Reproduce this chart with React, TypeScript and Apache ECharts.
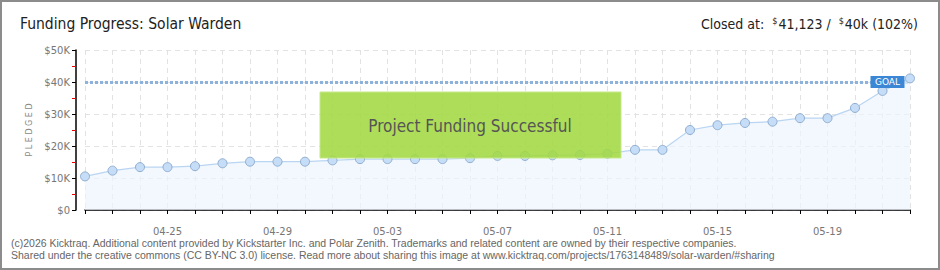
import React, { useEffect, useRef } from "react";
import * as echarts from "echarts";

const dates = [
  "04-22", "04-23", "04-24", "04-25", "04-26", "04-27", "04-28", "04-29", "04-30",
  "05-01", "05-02", "05-03", "05-04", "05-05", "05-06", "05-07", "05-08", "05-09",
  "05-10", "05-11", "05-12", "05-13", "05-14", "05-15", "05-16", "05-17", "05-18",
  "05-19", "05-20", "05-21", "05-22",
];
const pledged = [
  10500, 12300, 13400, 13400, 13700, 14600, 15100, 15100, 15100, 15500, 15900,
  15900, 15900, 15900, 16200, 16900, 16900, 17100, 17200, 17600, 18800, 18800,
  25000, 26500, 27200, 27600, 28700, 28700, 31900, 37200, 41123,
];
const goal = 40000;
const yTicks = [0, 10000, 20000, 30000, 40000, 50000];

export default function App() {
  const ref = useRef<HTMLDivElement>(null);
  useEffect(() => {
    document.body.style.margin = "0";
    const chart = echarts.init(ref.current!, undefined, { renderer: "svg" });
    const axisFont = "DejaVu Sans";
    chart.setOption({
      animation: false,
      backgroundColor: "#ffffff",
      grid: { left: 85, right: 30, top: 50, bottom: 60 },
      xAxis: {
        type: "category",
        data: dates,
        boundaryGap: false,
        offset: 10,
        axisLine: { lineStyle: { color: "#000", width: 1.5 } },
        axisTick: { show: true, interval: 0, length: 4, lineStyle: { color: "#000" } },
        axisLabel: {
          interval: (i: number) => (i - 3) % 4 === 0 && i >= 3,
          color: "#777",
          fontFamily: axisFont,
          fontSize: 10,
          margin: 6,
        },
        splitLine: { show: true, interval: 0, lineStyle: { color: "#e2e2e2", type: [5, 4] } },
      },
      yAxis: {
        type: "value",
        min: yTicks[0],
        max: yTicks[yTicks.length - 1],
        interval: 10000,
        offset: 9,
        name: "P L E D G E D",
        nameLocation: "middle",
        nameGap: 42,
        nameTextStyle: { color: "#888", fontFamily: axisFont, fontSize: 8 },
        axisLine: { show: true, lineStyle: { color: "#000", width: 1.5 } },
        axisTick: { show: true, length: 4, lineStyle: { color: "#000" } },
        minorTick: { show: true, splitNumber: 2, length: 4, lineStyle: { color: "#e00" } },
        axisLabel: {
          color: "#777",
          fontFamily: axisFont,
          fontSize: 10,
          margin: 6,
          formatter: (v: number) => (v === 0 ? "$0" : "$" + v / 1000 + "K"),
        },
        splitLine: { show: true, lineStyle: { color: "#e2e2e2", type: [5, 4] } },
      },
      series: [
        {
          type: "line",
          data: pledged,
          symbol: "circle",
          symbolSize: 9,
          lineStyle: { color: "#b9d5f2", width: 1.2 },
          itemStyle: { color: "#c6ddf7", borderColor: "#8fadcf", borderWidth: 1 },
          areaStyle: { color: "#eef5fd" },
          z: 3,
          markLine: {
            silent: true,
            symbol: "none",
            label: { show: false },
            lineStyle: { color: "#8eb2de", width: 3, type: [3, 2] },
            data: [{ yAxis: goal }],
            z: 2,
          },
          markPoint: {
            silent: true,
            symbol: "rect",
            symbolSize: [34, 12],
            symbolOffset: [5, 0],
            itemStyle: { color: "#3b87d6" },
            label: {
              show: true,
              formatter: "GOAL",
              color: "#fff",
              fontFamily: axisFont,
              fontSize: 9,
            },
            data: [{ coord: [dates[29], goal] }],
          },
        },
      ],
      graphic: [
        {
          type: "rect",
          shape: { x: 1, y: 1, width: 938, height: 268 },
          style: { fill: "none", stroke: "#8c8c8c", lineWidth: 2 },
          z: 100,
        },
        {
          type: "text",
          x: 20,
          y: 24,
          style: {
            text: "Funding Progress: Solar Warden",
            font: "15.5px 'DejaVu Sans Condensed', 'DejaVu Sans'",
            fill: "#222",
            verticalAlign: "middle",
          },
        },
        {
          type: "text",
          x: 918,
          y: 24,
          style: {
            text: "Closed at:  {s|$}41,123 /  {s|$}40k (102%)",
            font: "14px 'DejaVu Sans Condensed', 'DejaVu Sans'",
            fill: "#222",
            align: "right",
            verticalAlign: "middle",
            rich: {
              s: { fontSize: 9, verticalAlign: "top", padding: [0, 1, 6, 0], fontFamily: "DejaVu Sans Condensed" },
            },
          },
        },
        {
          type: "rect",
          shape: { x: 320, y: 92, width: 301, height: 66 },
          style: { fill: "rgba(163,216,66,0.88)", stroke: "#c5e98a", lineWidth: 1 },
          z: 50,
        },
        {
          type: "text",
          x: 470,
          y: 126,
          z: 51,
          style: {
            text: "Project Funding Successful",
            font: "17px 'DejaVu Sans Condensed', 'DejaVu Sans'",
            fill: "#555",
            align: "center",
            verticalAlign: "middle",
            textShadowColor: "#fff",
            textShadowOffsetX: 1,
            textShadowOffsetY: 1,
            textShadowBlur: 0,
          },
        },
        {
          type: "text",
          x: 11,
          y: 243,
          style: {
            text: "(c)2026 Kicktraq. Additional content provided by Kickstarter Inc. and Polar Zenith. Trademarks and related content are owned by their respective companies.",
            font: "10.5px 'Liberation Sans'",
            fill: "#666",
            verticalAlign: "middle",
          },
        },
        {
          type: "text",
          x: 11,
          y: 255,
          style: {
            text: "Shared under the creative commons (CC BY-NC 3.0) license. Read more about sharing this image at www.kicktraq.com/projects/1763148489/solar-warden/#sharing",
            font: "10.5px 'Liberation Sans'",
            fill: "#666",
            verticalAlign: "middle",
          },
        },
      ],
    });
    return () => chart.dispose();
  }, []);
  return <div ref={ref} style={{ width: 940, height: 270 }} />;
}
